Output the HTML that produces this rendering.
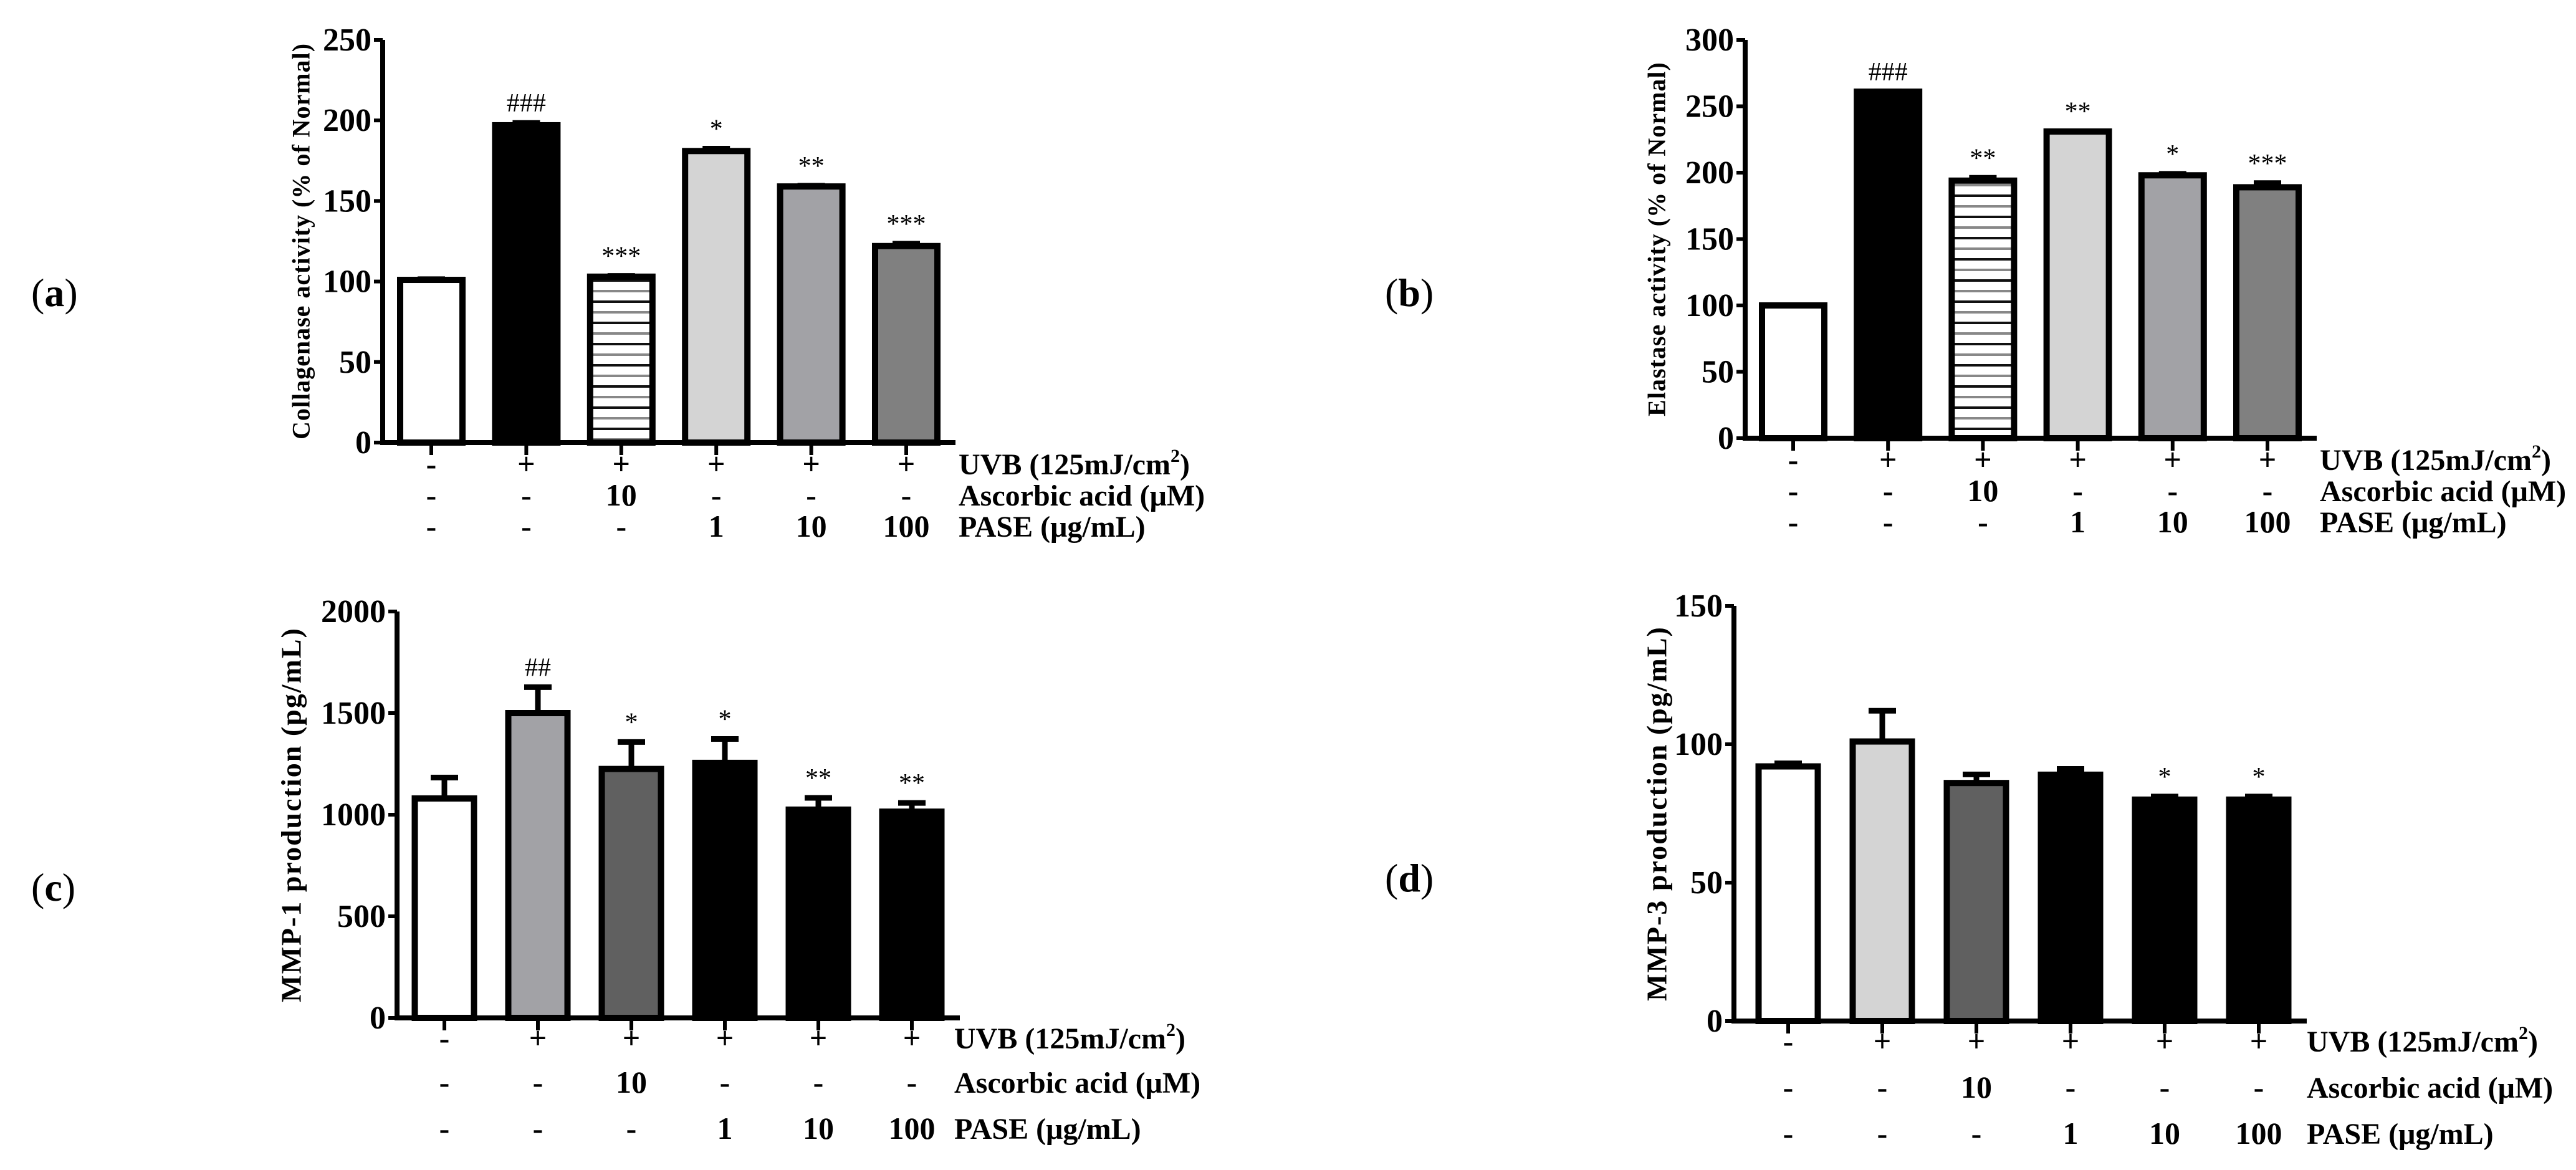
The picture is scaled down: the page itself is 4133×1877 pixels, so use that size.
<!DOCTYPE html>
<html><head><meta charset="utf-8">
<style>
html,body{margin:0;padding:0;background:#fff;}
svg{display:block;}
text{font-family:"Liberation Serif",serif;fill:#000;}
</style></head>
<body>
<svg id="fig" width="4133" height="1877" viewBox="0 0 4133 1877" xmlns="http://www.w3.org/2000/svg">
<defs>
<pattern id="hatch" patternUnits="userSpaceOnUse" width="20" height="34">
<rect width="20" height="34" fill="#fff"/>
<rect y="6" width="20" height="4" fill="#111"/>
<rect y="23" width="20" height="4" fill="#888"/>
</pattern>
</defs>
</svg>
<script>
// Panel data
const uvbRow = ["-","+","+","+","+","+"];
const ascRow = ["-","-","10","-","-","-"];
const paseRow = ["-","-","-","1","10","100"];
const aValues = [101, 197, 103, 181, 159, 122];
const aErrors = [2, 3, 2, 3, 2, 3];
const aMarks = ["", "###", "***", "*", "**", "***"];
const aTicks = [0, 50, 100, 150, 200, 250];
const bValues = [100, 261, 194, 231, 198, 189];
const bErrors = [2, 2, 4, 2, 3, 5];
const bMarks = ["", "###", "**", "**", "*", "***"];
const bTicks = [0, 50, 100, 150, 200, 250, 300];
const cValues = [1080, 1500, 1225, 1255, 1025, 1015];
const cErrors = [115, 140, 145, 130, 70, 55];
const cMarks = ["", "##", "*", "*", "**", "**"];
const cTicks = [0, 500, 1000, 1500, 2000];
const dValues = [92, 101, 86, 89, 80, 80];
const dErrors = [2, 12, 4, 3, 2, 2];
const dMarks = ["", "", "", "", "*", "*"];
const dTicks = [0, 50, 100, 150];

const NS = "http://www.w3.org/2000/svg";
const svg = document.getElementById('fig');
function mk(tag, attrs, parent){
  const e = document.createElementNS(NS, tag);
  for (const k in attrs) e.setAttribute(k, attrs[k]);
  (parent||svg).appendChild(e);
  return e;
}

function panel(cfg){
  const g = mk('g', {});
  
  
  const ymax = cfg.ticks[cfg.ticks.length-1];
  const Y = v => cfg.y0 - (v / ymax) * (cfg.y0 - cfg.yTop);
  const X = i => cfg.c0 + i * cfg.step;
  cfg.values.forEach((v, i) => {
    const x = X(i) - cfg.bw/2, y = Y(v);
    const r = mk('rect', {x: x, y: y, width: cfg.bw, height: cfg.y0 - y, fill: cfg.fills[i], stroke: '#000', 'stroke-width': 10}, g);
    
    
    const ye = Y(v + cfg.errors[i]);
    const el = mk('path', {d: `M${X(i)} ${y} V${ye} M${X(i)-22} ${ye+4} H${X(i)+22}`, stroke: '#000', 'stroke-width': 9, fill: 'none'}, g);
    
    
    if (cfg.marks[i]) {
      const t = mk('text', {x: X(i), y: ye - 14, 'text-anchor': 'middle', 'font-size': 42}, g);
      t.textContent = cfg.marks[i];
      
      
    }
  });
  const ax = mk('path', {d: `M${cfg.ax} ${cfg.yTop} V${cfg.y0} M${cfg.ax-4} ${cfg.y0} H${cfg.xEnd}`, stroke: '#000', 'stroke-width': 8, fill: 'none'}, g);
  
  
  cfg.ticks.forEach(t => {
    const ty = Y(t);
    mk('line', {x1: cfg.ax-14, x2: cfg.ax, y1: ty, y2: ty, stroke: '#000', 'stroke-width': 6}, g);
    const tl = mk('text', {x: cfg.ax-18, y: ty+17, 'text-anchor': 'end', 'font-size': 52, 'font-weight': 'bold'}, g);
    tl.textContent = t;
    
    
  });
  cfg.values.forEach((v, i) => {
    mk('line', {x1: X(i), x2: X(i), y1: cfg.y0, y2: cfg.y0+20, stroke: '#000', 'stroke-width': 6}, g);
  });
  const yt = mk('text', {x: 0, y: 0, 'text-anchor': 'middle', 'font-size': cfg.tfs, 'font-weight': 'bold', 'letter-spacing': cfg.ls,
    transform: `translate(${cfg.tx},${(cfg.yTop+cfg.y0)/2}) rotate(-90)`, 'dominant-baseline': 'central'}, g);
  yt.textContent = cfg.title;
  
  
  const rows = [uvbRow, ascRow, paseRow];
  const rowNames = ['UVB (125mJ/cm', 'Ascorbic acid (\u03bcM)', 'PASE (\u03bcg/mL)'];
  rows.forEach((row, r) => {
    const ry = cfg.rows[r];
    row.forEach((s, i) => {
      const t = mk('text', {x: X(i), y: ry + 16, 'text-anchor': 'middle', 'font-size': 50, 'font-weight': 'bold'}, g);
      t.textContent = s;
      
      
    });
    const lt = mk('text', {x: cfg.lx, y: ry + 16, 'font-size': 48, 'font-weight': 'bold'}, g);
    lt.textContent = rowNames[r];
    if (r === 0) {
      const sup = mk('tspan', {dy: -20, 'font-size': 30}, lt); sup.textContent = '2';
      const cl = mk('tspan', {dy: 20}, lt); cl.textContent = ')';
    }
    
    
  });
  const pl = mk('text', {x: cfg.plx, y: cfg.ply + 22, 'font-size': 64}, g);
  pl.innerHTML = '(<tspan font-weight="bold">' + cfg.id + '</tspan>)';
  
  
}

panel({id:'a', values:aValues, errors:aErrors, marks:aMarks, ticks:aTicks,
  fills:['#fff','#000','url(#hatch)','#d4d4d4','#a2a2a6','#808080'],
  ax:614, y0:710, yTop:64, xEnd:1533, c0:692, step:152.4, bw:100,
  tx:483, tfs:40, ls:1, title:'Collagenase activity (% of Normal)',
  rows:[745,795,845], lx:1538, plx:50, ply:469});
panel({id:'b', values:bValues, errors:bErrors, marks:bMarks, ticks:bTicks,
  fills:['#fff','#000','url(#hatch)','#d4d4d4','#a2a2a6','#808080'],
  ax:2800, y0:703, yTop:64, xEnd:3717, c0:2877, step:152.2, bw:100,
  tx:2658, tfs:40, ls:1, title:'Elastase activity (% of Normal)',
  rows:[738,788,838], lx:3722, plx:2222, ply:469});
panel({id:'c', values:cValues, errors:cErrors, marks:cMarks, ticks:cTicks,
  fills:['#fff','#a2a2a6','#606060','#000','#000','#000'],
  ax:637, y0:1633, yTop:981, xEnd:1540, c0:713, step:150, bw:95,
  tx:467, tfs:46, ls:2, title:'MMP-1 production (pg/mL)',
  rows:[1666,1737,1811], lx:1531, plx:50, ply:1423});
panel({id:'d', values:dValues, errors:dErrors, marks:dMarks, ticks:dTicks,
  fills:['#fff','#d4d4d4','#606060','#000','#000','#000'],
  ax:2782, y0:1638, yTop:972, xEnd:3701, c0:2869, step:151, bw:95,
  tx:2658, tfs:46, ls:2, title:'MMP-3 production (pg/mL)',
  rows:[1671,1745,1819], lx:3701, plx:2222, ply:1408});
</script>
</body></html>
